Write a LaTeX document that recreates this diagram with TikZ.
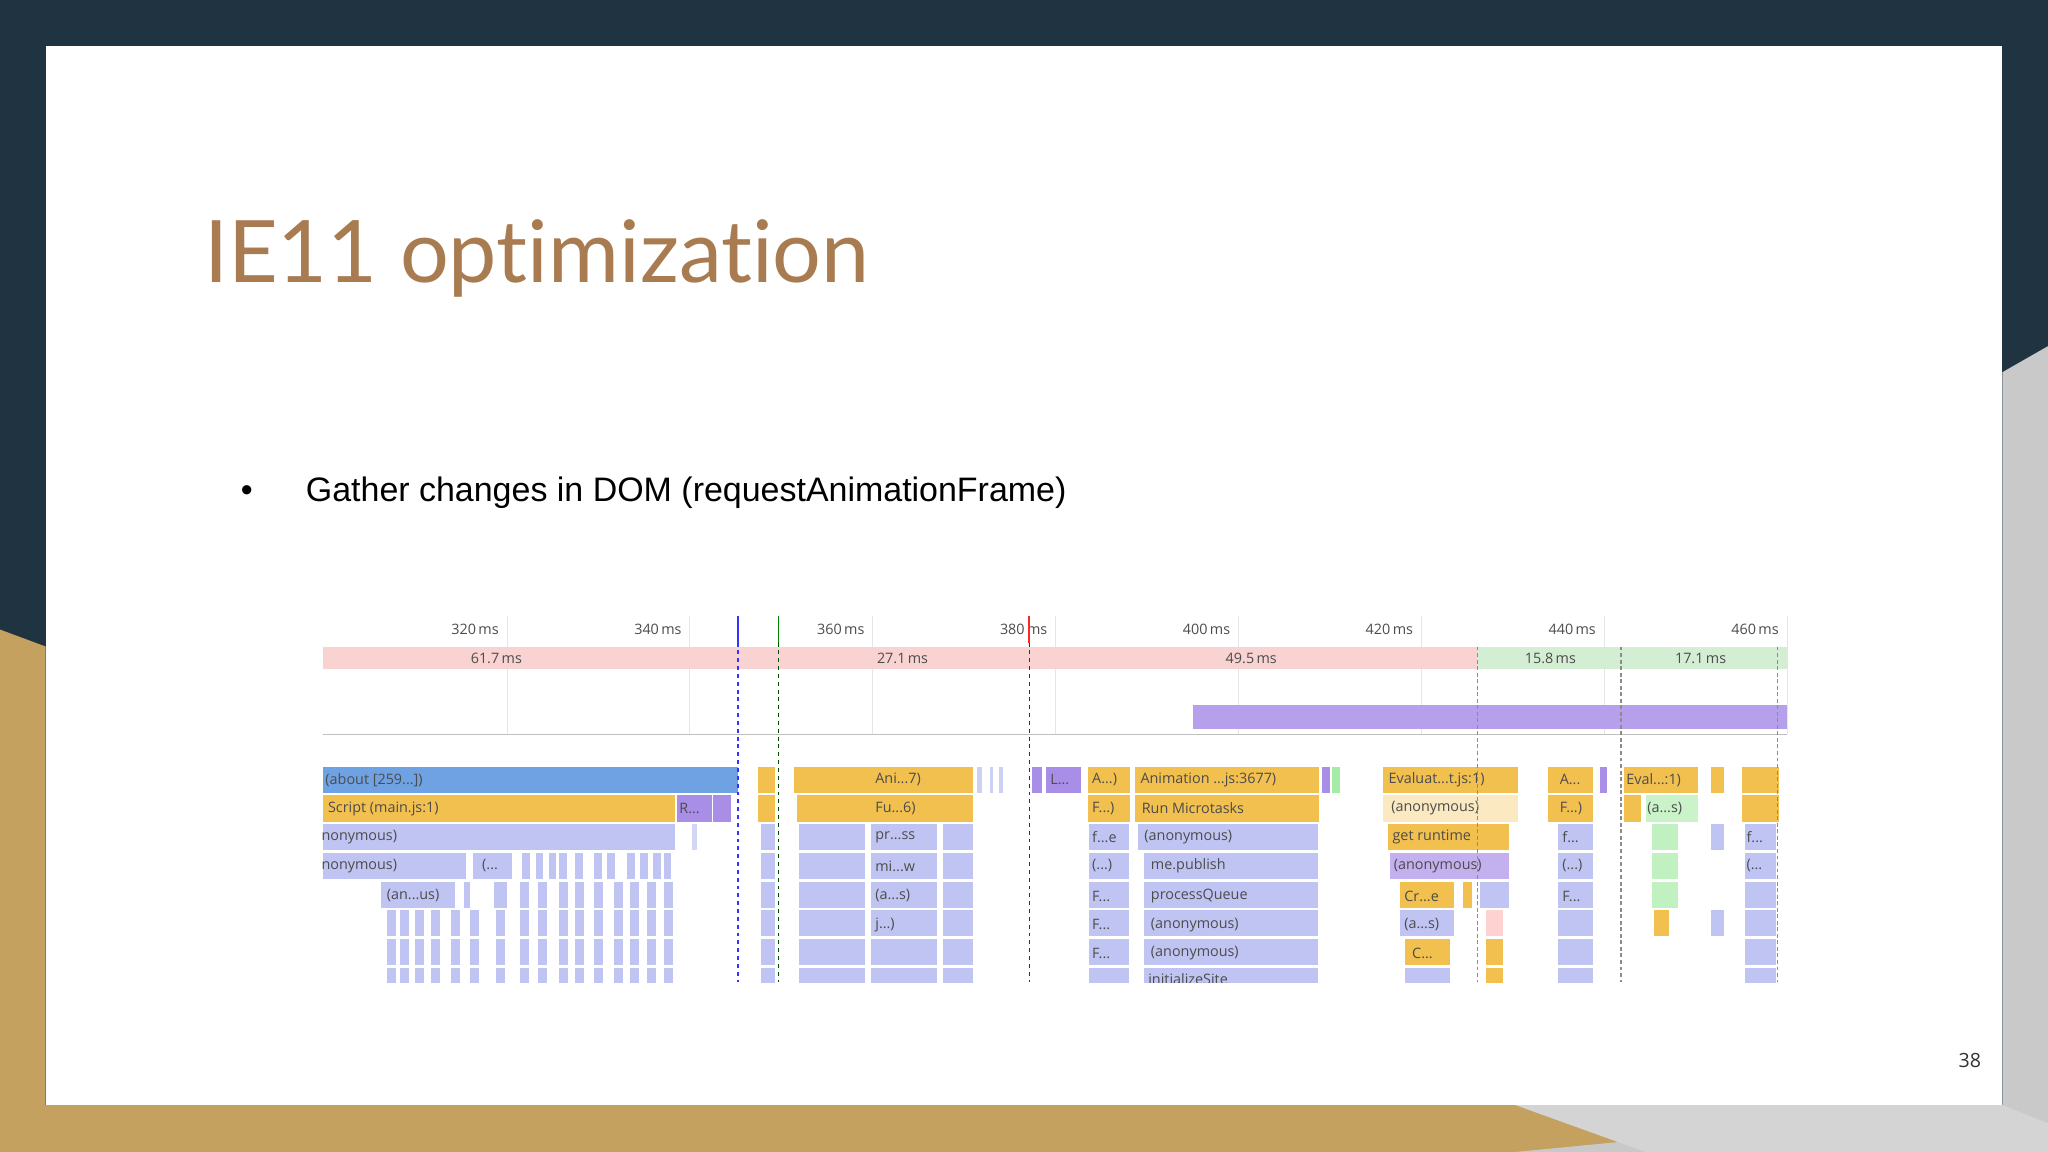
\documentclass[tikz,border=0pt]{standalone}
\usepackage{fontspec}
\setmainfont{Open Sans}
\newfontfamily\titlefont[Ligatures={NoCommon,NoRare,NoContextual}]{Lato}
\newfontfamily\armfont{Liberation Sans}
\newcommand\flm[4]{\fill[#1] (#2,#3) rectangle (#4,#3+20);}
\begin{document}
\begin{tikzpicture}[x=1pt,y=-1pt,
  lbl/.style={font=\fontsize{11}{12}\selectfont,text=black!70,inner sep=1pt,anchor=west},
  tk/.style={font=\fontsize{11}{12}\selectfont,text=black!70,inner sep=1pt,anchor=east}]
\definecolor{navy}{HTML}{1F3340}
\definecolor{gold}{HTML}{C4A15E}
\definecolor{gry}{HTML}{C9C9C9}
\definecolor{ttl}{HTML}{A87B50}
\definecolor{fb}{HTML}{6EA2E2}
\definecolor{fy}{HTML}{F2C04E}
\definecolor{fl}{HTML}{C0C4F2}
\definecolor{fp}{HTML}{A98EE8}
\definecolor{pk}{HTML}{F9D2D2}
\definecolor{gr}{HTML}{D3EED3}
\definecolor{lg}{HTML}{A6EBA6}
\useasboundingbox (0,0) rectangle (1568,882);
\fill[navy] (0,0) rectangle (1568,882);
\fill[gold] (0,482) -- (35,495) -- (35,882) -- (0,882) -- cycle;
\fill[gold] (0,846) rectangle (1260,882);
\fill[gry] (1533,285) -- (1568,265) -- (1568,882) -- (1160,882) -- (1533,846) -- cycle;
\fill[gry!80] (1260,882) -- (1160,846) -- (1533,846) -- (1568,860) -- (1568,882) -- cycle;
\fill[white] (35,35) rectangle (1533,846);
\node[anchor=west,inner sep=0,text=ttl,font=\titlefont\fontsize{66}{72}\selectfont] (title) at (156,198) {IE11 optimization};
\node[inner sep=0,font=\armfont\fontsize{26}{28}\selectfont] (bul) at (189,378) {•};
\node[anchor=west,inner sep=0,font=\armfont\fontsize{26}{28}\selectfont] (b1) at (234,377) {Gather changes in DOM (requestAnimationFrame)};
\node[anchor=east,inner sep=0,font=\fontsize{15}{18}\selectfont,text=black!80] (pg) at (1517,812) {38};
% chart
\foreach \x in {388,528,668,808,948,1088,1228,1368} \draw[black!10] (\x,472) -- (\x,562);
\fill[pk] (247,495) rectangle (1131,512);
\fill[gr] (1131,495) rectangle (1368,512);
\draw[black!25] (247,562) -- (1368,562);
\fill[fp!85] (913,540) rectangle (1368,558);
\foreach \x/\t in {383/320,523/340,663/360,803/380,943/400,1083/420,1223/440,1363/460}
  \node[tk] at (\x,482) {\t\,ms};
\node[font=\fontsize{11}{12}\selectfont,text=black!70] (d1) at (380,504) {61.7\,ms};
\node[font=\fontsize{11}{12}\selectfont,text=black!70] (d2) at (691,504) {27.1\,ms};
\node[font=\fontsize{11}{12}\selectfont,text=black!70] (d3) at (958,504) {49.5\,ms};
\node[font=\fontsize{11}{12}\selectfont,text=black!70] (d4) at (1187,504) {15.8\,ms};
\node[font=\fontsize{11}{12}\selectfont,text=black!70] (d5) at (1302,504) {17.1\,ms};
\begin{scope}
\clip (240,580) rectangle (1375,752);
% column 1
\flm{fb}{247}{587}{565}
\flm{fy}{247}{609}{517} \flm{fp}{518}{609}{545} \flm{fp}{546}{609}{560}
\flm{fl}{247}{631}{517} \flm{fl!70}{530}{631}{534}
\flm{fl}{247}{653}{357} \flm{fl}{362}{653}{392}
\foreach \a in {400,410,420,428,440,455,465,480,490,500,508} {\flm{fl}{\a}{653}{\a+6}}
\flm{fl}{292}{675}{348} \flm{fl}{355}{675}{360} \flm{fl}{378}{675}{388}
\foreach \yy in {697,719,741}{ \foreach \a in {296,306,318,330,345,360,380,398,412,428,440,455,470,482,495,508} {\flm{fl}{\a}{\yy}{\a+7}} }
\foreach \a in {398,412,428,440,455,470,482,495,508} {\flm{fl}{\a}{675}{\a+7}}
% column 2
\flm{fy}{580}{587}{593} \flm{fy}{608}{587}{745} \flm{fl!80}{748}{587}{752} \flm{fl!80}{758}{587}{760} \flm{fl!80}{765}{587}{768}
\flm{fy}{580}{609}{593} \flm{fy}{610}{609}{745}
\foreach \yy in {631,653,675,697,719,741}{ \flm{fl}{583}{\yy}{593} \flm{fl}{612}{\yy}{662} \flm{fl}{667}{\yy}{717} \flm{fl}{722}{\yy}{745} }
% column 3
\flm{fp}{790}{587}{798} \flm{fp}{801}{587}{828}
\flm{fy}{833}{587}{865} \flm{fy}{869}{587}{1010} \flm{fp}{1012}{587}{1018} \flm{lg}{1020}{587}{1026}
\flm{fy}{833}{609}{865} \flm{fy}{869}{609}{1010}
\foreach \yy in {631,653,675,697,719,741} {\flm{fl}{834}{\yy}{864}}
\flm{fl}{871}{631}{1009}
\foreach \yy in {653,675,697,719,741} {\flm{fl}{876}{\yy}{1009}}
% column 4
\flm{fy}{1059}{587}{1162}
\flm{fy!35}{1059}{609}{1162}
\flm{fy}{1063}{631}{1155}
\flm{fp!70}{1064}{653}{1155}
\flm{fy}{1072}{675}{1113} \flm{fy}{1120}{675}{1127} \flm{fl}{1133}{675}{1155}
\flm{fl}{1072}{697}{1113} \flm{pink!70}{1138}{697}{1151}
\flm{fy}{1076}{719}{1110} \flm{fy}{1138}{719}{1151}
\flm{fl}{1076}{741}{1110} \flm{fy}{1138}{741}{1151}
% column 5
\flm{fy}{1185}{587}{1220} \flm{fp}{1225}{587}{1230}
\flm{fy}{1185}{609}{1220}
\foreach \yy in {631,653,675,697,719,741} {\flm{fl}{1193}{\yy}{1220}}
\flm{fy}{1243}{587}{1300} \flm{fy}{1243}{609}{1256} \flm{lg!60}{1260}{609}{1300}
\foreach \yy in {631,653,675} {\flm{lg!70}{1265}{\yy}{1285}}
\flm{fy}{1266}{697}{1278}
\flm{fy}{1310}{587}{1320} \flm{fl}{1310}{631}{1320} \flm{fl}{1310}{697}{1320}
\flm{fy}{1334}{587}{1362} \flm{fy}{1334}{609}{1362}
\foreach \yy in {631,653,675,697,719,741} {\flm{fl}{1336}{\yy}{1360}}
% labels
\node[lbl] (l1) at (248,597) {(about [259...])};
\node[lbl] (l2) at (250,619) {Script (main.js:1)};
\node[lbl] (l3) at (519,619) {R...};
\node[lbl] (l4) at (245,641) {nonymous)};
\node[lbl] (l5) at (245,663) {nonymous)};
\node[lbl] (l6) at (368,663) {(...};
\node[lbl] (l7) at (295,686) {(an...us)};
\node[lbl] (l8) at (669,597) {Ani...7)};
\node[lbl] (l9) at (669,619) {Fu...6)};
\node[lbl] (l10) at (669,641) {pr...ss};
\node[lbl] (l11) at (669,663) {mi...w};
\node[lbl] (l12) at (669,686) {(a...s)};
\node[lbl] (l13) at (669,708) {j...)};
\node[lbl] (l14) at (803,597) {L...};
\node[lbl] (l15) at (835,597) {A...)};
\node[lbl] (l16) at (872,597) {Animation ...js:3677)};
\node[lbl] (l17) at (835,619) {F...)};
\node[lbl] (l18) at (873,619) {Run Microtasks};
\node[lbl] (l19) at (835,641) {f...e};
\node[lbl] (l20) at (875,641) {(anonymous)};
\node[lbl] (l21) at (835,663) {(...)};
\node[lbl] (l22) at (880,663) {me.publish};
\node[lbl] (l23) at (835,686) {F...};
\node[lbl] (l24) at (880,686) {processQueue};
\node[lbl] (l25) at (835,708) {F...};
\node[lbl] (l26) at (880,708) {(anonymous)};
\node[lbl] (l27) at (835,730) {F...};
\node[lbl] (l28) at (880,730) {(anonymous)};
\node[lbl] (l29) at (1062,597) {Evaluat...t.js:1)};
\node[lbl] (l30) at (1064,619) {(anonymous)};
\node[lbl] (l31) at (1065,641) {get runtime};
\node[lbl] (l32) at (1066,663) {(anonymous)};
\node[lbl] (l33) at (1074,686) {Cr...e};
\node[lbl] (l34) at (1074,708) {(a...s)};
\node[lbl] (l35) at (1080,730) {C...};
\node[lbl] (l36) at (1193,597) {A...};
\node[lbl] (l37) at (1193,619) {F...)};
\node[lbl] (l38) at (1195,641) {f...};
\node[lbl] (l39) at (1195,663) {(...)};
\node[lbl] (l40) at (1195,686) {F...};
\node[lbl] (l41) at (1244,597) {Eval...:1)};
\node[lbl] (l42) at (1260,619) {(a...s)};
\node[lbl] (l43) at (1336,641) {f...};
\node[lbl] (l44) at (1336,663) {(...};
\node[lbl] (l45) at (878,750) {initializeSite};
\end{scope}
% markers
\draw[blue!80,line width=1.3pt] (565,472) -- (565,492);
\draw[blue!80,line width=1pt,dashed] (565,492) -- (565,752);
\draw[green!50!black,line width=1.3pt] (596,472) -- (596,492);
\draw[green!30!black,line width=1pt,dashed] (596,492) -- (596,752);
\draw[red!85,line width=1.3pt] (788,472) -- (788,492);
\draw[red!70!black,line width=1pt,dashed] (788,492) -- (788,752);
\foreach \x in {1131,1241,1361} {\draw[black!45,line width=1pt,densely dashed] (\x,495) -- (\x,752);}
\end{tikzpicture}
\end{document}
